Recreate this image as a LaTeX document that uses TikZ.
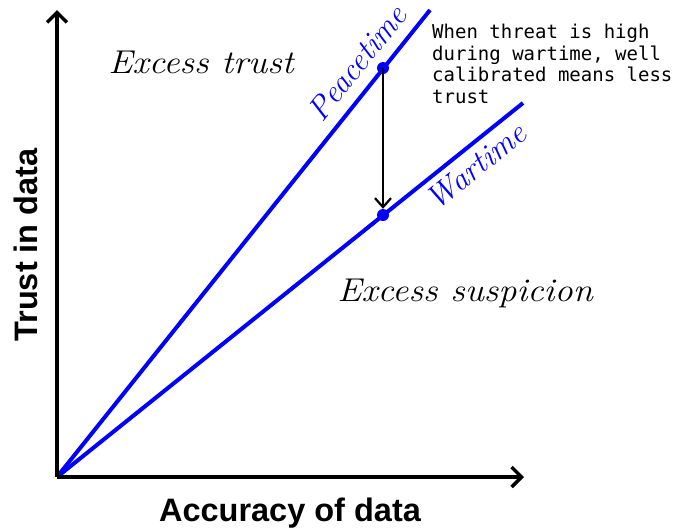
\documentclass[tikz,border=0pt]{standalone}
\usepackage{fontspec}
\setsansfont{Liberation Sans}
\setmonofont{DejaVu Sans Mono}
\usetikzlibrary{arrows.meta}
\begin{document}
\begin{tikzpicture}[x=1pt,y=-1pt,
  axis/.style={line width=3.5pt,-{Straight Barb[length=10pt,width=20pt,line width=3.5pt]}},
  trend/.style={blue,line width=4pt},
  region/.style={font=\fontsize{33}{36}\selectfont\itshape,xscale=1.1},
  linelabel/.style={blue,font=\fontsize{32}{34}\selectfont\itshape},
  axislabel/.style={font=\fontsize{32.5}{34}\selectfont\sffamily\bfseries},
  note/.style={font=\fontsize{19}{21.5}\selectfont\ttfamily,align=left,anchor=north west,inner sep=0pt},
  dot/.style={circle,fill=blue,inner sep=0pt,minimum size=12pt}]
\useasboundingbox (0,0) rectangle (681,531);
\coordinate (O) at (57,477);
\coordinate (ytip) at (57,10);
\coordinate (xtip) at (524,477);
\coordinate (pend) at (430,10);
\coordinate (wend) at (523,103);
\draw[trend] (O) -- (pend);
\draw[trend] (O) -- (wend);
\draw[axis] (O) -- (ytip);
\draw[axis] (O) -- (xtip);
\node[dot] (p) at (383,68) {};
\node[dot] (w) at (383,215) {};
\draw[line width=2.2pt,-{Straight Barb[length=9pt,width=16pt,line width=2.2pt]}] (p.center) -- (w.north);
\node[region] (et) at (201,62) {Excess trust};
\node[region] (es) at (465,293) {Excess suspicion};
\node[linelabel,rotate=51.4] (pl) at (357,63) {Peacetime};
\node[linelabel,rotate=38.8] (wl) at (476,166) {Wartime};
\node[note] (n) at (432,24) {When threat is high\\during wartime, well\\calibrated means less\\trust};
\node[axislabel] (xl) at (290,513) {Accuracy of data};
\node[axislabel,rotate=90] (yl) at (26,245) {Trust in data};
\end{tikzpicture}
\end{document}
